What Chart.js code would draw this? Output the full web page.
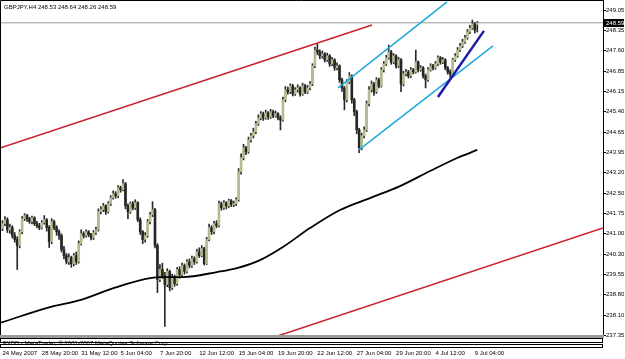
<!DOCTYPE html>
<html>
<head>
<meta charset="utf-8">
<title>GBPJPY,H4</title>
<script src="https://cdn.jsdelivr.net/npm/chart.js@4.4.0/dist/chart.umd.min.js"></script>
<style>
  html, body { margin: 0; padding: 0; background: #fff; }
  canvas { display: block; }
</style>
</head>
<body>
<canvas id="myChart" width="625" height="359"></canvas>
<script>
var symbol = 'GBPJPY,H4';
var copyright = 'FXDD - MetaTrader, \u00a9 2001-2007 MetaQuotes Software Corp.';

// time axis: one label every 16 H4 bars
var timeLabels = ['24 May 2007', '28 May 20:00', '31 May 12:00', '5 Jun 04:00', '7 Jun 20:00',
    '12 Jun 12:00', '15 Jun 04:00', '19 Jun 20:00', '22 Jun 12:00', '27 Jun 04:00',
    '29 Jun 20:00', '4 Jul 12:00', '9 Jul 04:00'];
var labelStep = 16;

var priceLabels = ['249.05', '248.35', '247.60', '246.85', '246.15', '245.40', '244.65', '243.95',
    '243.20', '242.50', '241.75', '241.00', '240.30', '239.55', '238.80', '238.10', '237.35'];

var opens = [
    241.20, 241.37, 241.51, 241.15, 241.23, 240.94, 240.80, 240.58, 241.08, 241.55,
    241.66, 241.55, 241.44, 241.58, 241.37, 241.30, 241.23, 241.41, 241.51, 241.23,
    240.72, 241.44, 241.23, 241.08, 240.94, 240.44, 240.22, 240.00, 240.15, 239.93,
    240.22, 240.00, 240.65, 241.01, 240.94, 241.08, 240.97, 240.87, 241.05, 241.15,
    241.80, 241.87, 242.01, 241.80, 242.09, 242.30, 242.45, 242.37, 242.66, 242.59,
    242.81, 242.01, 241.80, 242.09, 241.94, 242.12, 241.51, 241.08, 240.80, 240.94,
    241.44, 241.69, 241.87, 240.58, 239.36, 239.72, 239.50, 239.18, 239.65, 239.07,
    239.43, 239.21, 239.72, 239.54, 239.86, 239.65, 240.00, 239.86, 240.11, 240.00,
    240.36, 240.22, 240.47, 239.93, 240.80, 241.23, 241.08, 241.37, 241.30, 242.09,
    241.94, 242.12, 242.01, 242.19, 242.05, 242.09, 242.23, 243.24, 243.74, 244.10,
    243.95, 244.38, 244.53, 244.67, 244.96, 245.17, 245.32, 245.17, 245.35, 245.21,
    245.39, 245.25, 245.32, 245.17, 245.10, 245.82, 246.18, 246.11, 246.32, 246.03,
    246.18, 246.25, 246.03, 246.32, 246.11, 246.25, 246.39, 247.04, 247.61, 247.54,
    247.40, 247.47, 247.26, 247.40, 247.11, 247.26, 246.97, 247.04, 246.54, 246.25,
    245.82, 246.47, 246.68, 245.82, 245.39, 244.74, 244.10, 244.53, 244.74, 245.68,
    246.18, 246.39, 246.11, 246.54, 246.32, 246.90, 247.11, 247.33, 247.54, 247.18,
    247.40, 247.04, 247.26, 246.39, 246.75, 246.82, 246.68, 246.90, 246.82, 247.18,
    246.90, 246.97, 246.68, 246.54, 246.90, 247.04, 246.97, 247.11, 247.33, 247.18,
    247.26, 246.97, 246.82, 246.75, 247.26, 247.40, 247.61, 247.76, 247.90, 248.05,
    248.26, 248.40, 248.55, 248.53
];
var highs = [
    241.48, 241.62, 241.58, 241.35, 241.30, 241.05, 240.90, 241.15, 241.62, 241.73,
    241.70, 241.60, 241.64, 241.62, 241.45, 241.38, 241.48, 241.66, 241.55, 241.30,
    241.55, 241.50, 241.30, 241.15, 241.00, 240.55, 240.30, 240.28, 240.20, 240.30,
    240.35, 240.75, 241.15, 241.08, 241.15, 241.12, 241.02, 241.12, 241.25, 241.90,
    241.98, 242.10, 242.05, 242.16, 242.38, 242.55, 242.52, 242.74, 242.72, 242.95,
    242.85, 242.08, 242.15, 242.16, 242.23, 242.16, 241.58, 241.12, 241.05, 241.52,
    241.78, 242.16, 241.92, 240.65, 239.90, 239.95, 239.62, 239.75, 239.70, 239.55,
    239.52, 239.80, 239.82, 239.95, 239.92, 240.08, 240.10, 240.20, 240.18, 240.45,
    240.50, 240.58, 240.52, 240.88, 241.35, 241.30, 241.45, 241.48, 242.18, 242.15,
    242.20, 242.16, 242.25, 242.24, 242.18, 242.30, 243.35, 243.88, 244.22, 244.15,
    244.48, 244.62, 244.80, 245.05, 245.28, 245.40, 245.38, 245.45, 245.40, 245.48,
    245.45, 245.42, 245.36, 245.25, 245.92, 246.30, 246.28, 246.40, 246.38, 246.26,
    246.36, 246.30, 246.42, 246.38, 246.34, 246.48, 247.12, 247.72, 247.83, 247.62,
    247.58, 247.52, 247.50, 247.45, 247.35, 247.30, 247.15, 247.08, 246.60, 246.30,
    246.55, 246.80, 246.72, 245.88, 245.45, 244.80, 244.62, 244.85, 245.78, 246.30,
    246.50, 246.45, 246.62, 246.60, 246.98, 247.20, 247.42, 247.79, 247.60, 247.48,
    247.45, 247.35, 247.30, 246.85, 246.92, 246.88, 246.98, 246.95, 247.61, 247.22,
    247.05, 247.02, 246.75, 246.98, 247.12, 247.10, 247.20, 247.40, 247.38, 247.35,
    247.30, 247.02, 246.90, 247.32, 247.48, 247.70, 247.85, 248.00, 248.14, 248.35,
    248.50, 248.69, 248.60, 248.64
];
var lows = [
    241.12, 241.30, 241.05, 241.02, 240.85, 240.70, 239.72, 240.50, 241.00, 241.48,
    241.45, 241.38, 241.36, 241.30, 241.22, 241.15, 241.18, 241.35, 241.10, 240.51,
    240.65, 241.15, 240.95, 240.80, 240.35, 240.10, 239.92, 239.90, 239.80, 239.85,
    239.90, 239.95, 240.60, 240.85, 240.88, 240.90, 240.78, 240.80, 240.98, 241.10,
    241.72, 241.80, 241.70, 241.75, 242.02, 242.25, 242.28, 242.30, 242.50, 242.55,
    241.90, 241.55, 241.74, 241.86, 241.88, 241.44, 240.98, 240.65, 240.70, 240.88,
    241.36, 241.62, 240.50, 238.89, 239.28, 239.40, 237.67, 239.10, 238.95, 239.00,
    239.12, 239.15, 239.40, 239.48, 239.55, 239.60, 239.78, 239.80, 239.90, 239.95,
    240.15, 240.18, 239.88, 239.90, 240.75, 240.98, 241.00, 241.22, 241.25, 241.85,
    241.88, 241.90, 241.95, 241.98, 241.98, 242.02, 242.18, 243.15, 243.66, 243.85,
    243.90, 244.30, 244.45, 244.60, 244.90, 245.10, 245.08, 245.12, 245.12, 245.15,
    245.18, 245.20, 245.10, 244.74, 245.05, 245.75, 246.02, 246.05, 245.96, 245.98,
    246.10, 245.95, 245.98, 246.04, 246.05, 246.18, 246.33, 246.98, 247.44, 247.30,
    247.32, 247.18, 247.20, 247.02, 247.05, 246.88, 246.90, 246.45, 246.12, 245.46,
    245.75, 246.40, 245.70, 245.25, 244.60, 243.92, 244.02, 244.45, 244.68, 245.60,
    246.10, 245.98, 246.05, 246.25, 246.28, 246.82, 247.05, 247.28, 247.10, 247.12,
    246.96, 246.98, 246.11, 246.32, 246.68, 246.60, 246.62, 246.75, 246.78, 246.82,
    246.85, 246.60, 246.25, 246.48, 246.85, 246.90, 246.92, 247.05, 247.10, 247.12,
    246.90, 246.74, 246.54, 246.70, 247.20, 247.35, 247.55, 247.70, 247.85, 248.00,
    248.20, 248.35, 248.22, 248.26
];
var closes = [
    241.37, 241.51, 241.15, 241.23, 240.94, 240.80, 240.58, 241.08, 241.55, 241.66,
    241.55, 241.44, 241.58, 241.37, 241.30, 241.23, 241.41, 241.51, 241.23, 240.72,
    241.44, 241.23, 241.08, 240.94, 240.44, 240.22, 240.00, 240.15, 239.93, 240.22,
    240.00, 240.65, 241.01, 240.94, 241.08, 240.97, 240.87, 241.05, 241.15, 241.80,
    241.87, 242.01, 241.80, 242.09, 242.30, 242.45, 242.37, 242.66, 242.59, 242.81,
    242.01, 241.80, 242.09, 241.94, 242.12, 241.51, 241.08, 240.80, 240.94, 241.44,
    241.69, 241.87, 240.58, 239.36, 239.72, 239.50, 239.18, 239.65, 239.07, 239.43,
    239.21, 239.72, 239.54, 239.86, 239.65, 240.00, 239.86, 240.11, 240.00, 240.36,
    240.22, 240.47, 239.93, 240.80, 241.23, 241.08, 241.37, 241.30, 242.09, 241.94,
    242.12, 242.01, 242.19, 242.05, 242.09, 242.23, 243.24, 243.74, 244.10, 243.95,
    244.38, 244.53, 244.67, 244.96, 245.17, 245.32, 245.17, 245.35, 245.21, 245.39,
    245.25, 245.32, 245.17, 245.10, 245.82, 246.18, 246.11, 246.32, 246.03, 246.18,
    246.25, 246.03, 246.32, 246.11, 246.25, 246.39, 247.04, 247.61, 247.54, 247.40,
    247.47, 247.26, 247.40, 247.11, 247.26, 246.97, 247.04, 246.54, 246.25, 245.82,
    246.47, 246.68, 245.82, 245.39, 244.74, 244.10, 244.53, 244.74, 245.68, 246.18,
    246.39, 246.11, 246.54, 246.32, 246.90, 247.11, 247.33, 247.54, 247.18, 247.40,
    247.04, 247.26, 246.39, 246.75, 246.82, 246.68, 246.90, 246.82, 247.18, 246.90,
    246.97, 246.68, 246.54, 246.90, 247.04, 246.97, 247.11, 247.33, 247.18, 247.26,
    246.97, 246.82, 246.75, 247.26, 247.40, 247.61, 247.76, 247.90, 248.05, 248.26,
    248.40, 248.55, 248.33, 248.59
];

// moving average at a few bars
var maBars = [-1.0, 19.3, 31.5, 46.5, 64.0, 73.4, 87.2, 95.3, 104.7, 114.0, 125.0, 137.2, 149.4, 161.6, 173.8, 184.8, 193.0];
var maValues = [237.80, 238.37, 238.62, 239.09, 239.45, 239.45, 239.63, 239.77, 240.06, 240.53, 241.21, 241.86, 242.29, 242.72, 243.26, 243.73, 244.02];

// trend lines [bar, price]
var redUpperLine = [[-1.0, 244.09], [150.2, 248.51]];
var redLowerLine = [[110.8, 237.30], [244.1, 241.21]];
var cyanUpperLine = [[136.4, 246.25], [180.7, 249.34]];
var cyanLowerLine = [[144.9, 244.02], [199.4, 247.76]];
var blueLine = [[177.0, 245.92], [195.7, 248.30]];

var xMin = -1.0, xMax = 244.1;
var yMin = 237.33, yMax = 249.41;
var fontFamily = 'Liberation Sans, Arial, sans-serif';

var last = closes.length - 1;

function toPoints(pairs) {
    return pairs.map(function (p) { return { x: p[0], y: p[1] }; });
}

function lineSet(pairs, color, width) {
    return {
        type: 'line',
        data: toPoints(pairs),
        borderColor: color,
        borderWidth: width,
        pointRadius: 0,
        fill: false,
        order: 0
    };
}

var wickData = [], bodyData = [], bodyColors = [], maData = [];
closes.forEach(function (c, i) {
    wickData.push({ x: i, y: [lows[i], highs[i]] });
    bodyData.push({ x: i, y: [opens[i], c] });
    bodyColors.push(c >= opens[i] ? '#b3bd90' : '#262626');
});
maBars.forEach(function (b, i) {
    maData.push({ x: b, y: maValues[i] });
});

// frame, window strip, title, bid price box
var mtDecor = {
    id: 'mtDecor',
    beforeDraw: function (chart) {
        var ctx = chart.ctx;
        ctx.save();
        ctx.fillStyle = '#fff';
        ctx.fillRect(0, 0, chart.width, chart.height);
        ctx.restore();
    },
    afterDraw: function (chart) {
        var ctx = chart.ctx, area = chart.chartArea;
        var yScale = chart.scales.y;
        ctx.save();
        ctx.strokeStyle = '#000';
        ctx.lineWidth = 1;
        ctx.beginPath();
        ctx.moveTo(0.5, area.bottom);
        ctx.lineTo(0.5, 0.5);
        ctx.lineTo(area.right, 0.5);
        ctx.stroke();

        ctx.fillStyle = '#9a9a9a';
        ctx.fillRect(0, area.bottom - 1, area.right + 1, 3);
        ctx.strokeRect(0.5, area.bottom + 2.5, area.right - 1, 4);
        ctx.strokeRect(0.5, area.bottom + 8.5, area.right - 1, 3);

        ctx.fillStyle = '#000';
        ctx.font = '6px ' + fontFamily;
        ctx.textBaseline = 'middle';
        ctx.textAlign = 'left';
        ctx.fillText(copyright, 3, area.bottom + 7.5);

        var title = symbol + ' ' + opens[last].toFixed(2) + ' ' + highs[last].toFixed(2) + ' ' +
            lows[last].toFixed(2) + ' ' + closes[last].toFixed(2);
        ctx.fillText(title, 4, 7);

        var py = Math.round(yScale.getPixelForValue(closes[last]));
        ctx.fillStyle = '#000';
        ctx.fillRect(area.right + 1, py - 4, 20, 8);
        ctx.fillStyle = '#fff';
        ctx.fillText(closes[last].toFixed(2), area.right + 3, py);
        ctx.restore();
    }
};

var bidLine = [[xMin, closes[last]], [xMax, closes[last]]];

var ctx = document.getElementById('myChart').getContext('2d');
var myChart = new Chart(ctx, {
    type: 'bar',
    data: {
        datasets: [
            lineSet(blueLine, '#1c1ca8', 2.5),
            lineSet(cyanUpperLine, '#1ea8dc', 1.5),
            lineSet(cyanLowerLine, '#1ea8dc', 1.5),
            lineSet(redUpperLine, '#c8202c', 1.5),
            lineSet(redLowerLine, '#c8202c', 1.5),
            {
                type: 'line',
                data: maData,
                borderColor: '#000',
                borderWidth: 1.8,
                pointRadius: 0,
                fill: false,
                cubicInterpolationMode: 'monotone',
                order: 0
            },
            {
                data: bodyData,
                backgroundColor: bodyColors,
                barThickness: 2,
                minBarLength: 1,
                grouped: false,
                borderWidth: 0,
                order: 1
            },
            {
                data: wickData,
                backgroundColor: '#2a2a2a',
                barThickness: 1,
                grouped: false,
                borderWidth: 0,
                order: 2
            },
            {
                type: 'line',
                data: toPoints(bidLine),
                borderColor: '#9a9a9a',
                borderWidth: 1,
                pointRadius: 0,
                fill: false,
                order: 3
            }
        ]
    },
    options: {
        responsive: false,
        devicePixelRatio: 1,
        animation: false,
        layout: { padding: 0 },
        plugins: {
            legend: { display: false },
            tooltip: { enabled: false }
        },
        scales: {
            x: {
                type: 'linear',
                min: xMin,
                max: xMax,
                offset: false,
                afterBuildTicks: function (scale) {
                    scale.ticks = timeLabels.map(function (t, i) { return { value: i * labelStep }; });
                },
                afterFit: function (scale) {
                    scale.height = 23;
                    scale.paddingLeft = 0;
                    scale.paddingRight = 0;
                },
                ticks: {
                    autoSkip: false,
                    maxRotation: 0,
                    align: 'start',
                    padding: 14,
                    color: '#000',
                    font: { family: fontFamily, size: 6 },
                    callback: function (value, index) { return timeLabels[index]; }
                },
                grid: { display: false, offset: false, drawTicks: false },
                border: { display: false }
            },
            y: {
                type: 'linear',
                position: 'right',
                min: yMin,
                max: yMax,
                afterBuildTicks: function (scale) {
                    var top = parseFloat(priceLabels[0]);
                    var bottom = parseFloat(priceLabels[priceLabels.length - 1]);
                    var step = (top - bottom) / (priceLabels.length - 1);
                    scale.ticks = priceLabels.map(function (t, i) { return { value: top - i * step }; });
                },
                afterFit: function (scale) {
                    scale.width = 22;
                    scale.paddingTop = 0;
                    scale.paddingBottom = 0;
                },
                ticks: {
                    padding: 0,
                    color: '#000',
                    font: { family: fontFamily, size: 6 },
                    callback: function (value, index) { return priceLabels[index]; }
                },
                grid: { drawOnChartArea: false, drawTicks: true, tickLength: 3, color: '#000' },
                border: { display: true, color: '#000' }
            }
        }
    },
    plugins: [mtDecor]
});
</script>
</body>
</html>
